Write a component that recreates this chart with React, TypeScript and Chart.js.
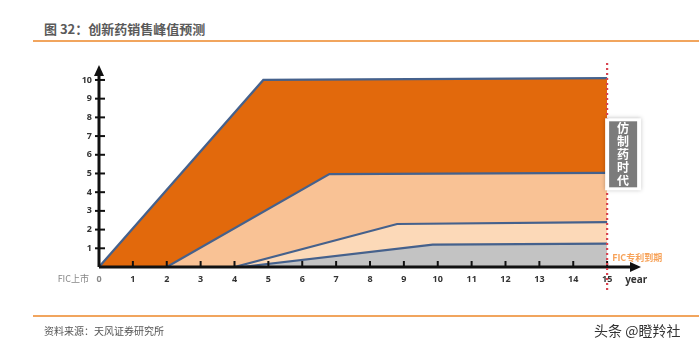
import React, { useEffect, useRef } from "react";
import { Chart, registerables } from "chart.js";

Chart.register(...registerables);

const topX = [0, 4.85, 15];
const topY = [0, 10, 10.1];
const midX = [2, 6.8, 15];
const midY = [0, 4.97, 5.03];
const lowX = [4, 8.8, 15];
const lowY = [0, 2.3, 2.4];
const baseX = [4.2, 9.85, 15];
const baseY = [0, 1.2, 1.25];

const xTicks = [0, 1, 2, 3, 4, 5, 6, 7, 8, 9, 10, 11, 12, 13, 14, 15];
const yTicks = [1, 2, 3, 4, 5, 6, 7, 8, 9, 10];

const title = "图 32：创新药销售峰值预测";
const source = "资料来源：天风证券研究所";
const watermark = "头条 @瞪羚社";
const boxText = "仿制药时代";
const expiryLabel = "FIC专利到期";
const launchLabel = "FIC上市";
const yearLabel = "year";

const pts = (xs: number[], ys: number[]) => xs.map((x, i) => ({ x, y: ys[i] }));

const LINE = "#45618c";

export default function App() {
  const ref = useRef<HTMLCanvasElement | null>(null);
  useEffect(() => {
    document.body.style.margin = "0";
    const overlay = {
      id: "overlay",
      afterDatasetsDraw(chart: any) {
        const ctx = chart.ctx;
        const xs = chart.scales.x;
        const ys = chart.scales.y;
        const ca = chart.chartArea;
        ctx.save();
        // ticks
        ctx.strokeStyle = "#111";
        ctx.lineWidth = 2;
        xTicks.slice(1).forEach((v) => {
          const px = xs.getPixelForValue(v);
          ctx.beginPath();
          ctx.moveTo(px, ca.bottom);
          ctx.lineTo(px, ca.bottom - 6);
          ctx.stroke();
        });
        yTicks.forEach((v) => {
          const py = ys.getPixelForValue(v);
          ctx.beginPath();
          ctx.moveTo(ca.left - 4, py);
          ctx.lineTo(ca.left + 6, py);
          ctx.stroke();
        });
        // axes
        ctx.lineWidth = 3;
        ctx.beginPath();
        ctx.moveTo(ca.left, ca.bottom);
        ctx.lineTo(ca.right - 6, ca.bottom);
        ctx.moveTo(ca.left, ca.bottom);
        ctx.lineTo(ca.left, ca.top + 6);
        ctx.stroke();
        ctx.fillStyle = "#111";
        ctx.beginPath();
        ctx.moveTo(ca.right, ca.bottom);
        ctx.lineTo(ca.right - 11, ca.bottom - 5);
        ctx.lineTo(ca.right - 11, ca.bottom + 5);
        ctx.closePath();
        ctx.fill();
        ctx.beginPath();
        ctx.moveTo(ca.left, ca.top);
        ctx.lineTo(ca.left - 5, ca.top + 11);
        ctx.lineTo(ca.left + 5, ca.top + 11);
        ctx.closePath();
        ctx.fill();
        // red dotted line at 15
        const p15 = xs.getPixelForValue(15);
        ctx.strokeStyle = "#d8434f";
        ctx.lineWidth = 2.2;
        ctx.setLineDash([2, 3]);
        ctx.beginPath();
        ctx.moveTo(p15, ca.top - 2);
        ctx.lineTo(p15, ca.bottom + 25);
        ctx.stroke();
        ctx.setLineDash([]);
        // box
        const bx = p15 - 2;
        const by = ys.getPixelForValue(7.95);
        const bw = 36;
        const bh = 72;
        ctx.shadowColor = "rgba(0,0,0,0.25)";
        ctx.shadowBlur = 4;
        ctx.fillStyle = "#ffffff";
        ctx.fillRect(bx, by, bw, bh);
        ctx.shadowBlur = 0;
        ctx.fillStyle = "#7b7b7b";
        ctx.fillRect(bx + 4, by + 3, bw - 8, bh - 6);
        ctx.fillStyle = "#ffffff";
        ctx.font = "bold 12px 'Noto Sans CJK SC'";
        ctx.textAlign = "center";
        ctx.textBaseline = "middle";
        Array.from(boxText).forEach((c, i) => {
          ctx.fillText(c, bx + bw / 2, by + 10 + i * 13);
        });
        // labels
        ctx.font = "bold 9px 'Noto Sans CJK SC'";
        ctx.fillStyle = "#f7a35a";
        ctx.textAlign = "left";
        ctx.fillText(expiryLabel, p15 + 5, ys.getPixelForValue(0.5));
        ctx.fillStyle = "#333";
        ctx.font = "bold 10px 'Noto Sans', sans-serif";
        ctx.fillText(yearLabel, p15 + 18, ca.bottom + 13);
        ctx.fillStyle = "#888";
        ctx.font = "9px 'Noto Sans CJK SC'";
        ctx.textAlign = "right";
        ctx.fillText(launchLabel, ca.left - 10, ca.bottom + 12);
        ctx.restore();
      },
    };
    const mk = (xs: number[], ys: number[], color: string) => ({
      data: pts(xs, ys),
      borderColor: LINE,
      borderWidth: 2.2,
      backgroundColor: color,
      fill: "origin",
      pointRadius: 0,
      tension: 0,
    });
    const chart = new Chart(ref.current as HTMLCanvasElement, {
      type: "line",
      data: {
        datasets: [
          mk(baseX, baseY, "#c3c3c3"),
          mk(lowX, lowY, "#fcd9b8"),
          mk(midX, midY, "#f9c295"),
          mk(topX, topY, "#e2690c"),
        ],
      },
      plugins: [overlay],
      options: {
        animation: false,
        responsive: false,
        layout: { padding: { left: 79, right: 58, top: 65, bottom: 67 } },
        plugins: { legend: { display: false }, tooltip: { enabled: false } },
        scales: {
          x: {
            type: "linear",
            min: 0,
            max: 16,
            grid: { display: false, drawTicks: false },
            border: { display: false },
            afterFit: (s: any) => {
              s.height = 24;
            },
            afterBuildTicks: (s: any) => {
              s.ticks = xTicks.map((v) => ({ value: v }));
            },
            ticks: {
              padding: 7,
              maxRotation: 0,
              autoSkip: false,
              color: (c: any) => (c.tick && c.tick.value === 0 ? "#888" : "#333"),
              font: { size: 9, weight: "bold", family: "'Noto Sans', sans-serif" },
            },
          },
          y: {
            type: "linear",
            min: 0,
            max: 10.8,
            grid: { display: false, drawTicks: false },
            border: { display: false },
            afterFit: (s: any) => {
              s.width = 20;
            },
            afterBuildTicks: (s: any) => {
              s.ticks = yTicks.map((v) => ({ value: v }));
            },
            ticks: {
              padding: 7,
              autoSkip: false,
              color: "#333",
              font: { size: 9, weight: "bold", family: "'Noto Sans', sans-serif" },
            },
          },
        },
      },
    } as any);
    return () => chart.destroy();
  }, []);
  return (
    <div style={{ position: "relative", width: 699, height: 358, background: "#fff", fontFamily: "'Noto Sans CJK SC', sans-serif" }}>
      <div style={{ position: "absolute", left: 44, top: 19, fontSize: 13, fontWeight: "bold", color: "#5a5a5a", whiteSpace: "nowrap" }}>{title}</div>
      <div style={{ position: "absolute", left: 33, top: 40, width: 666, height: 2, background: "#f1a55e" }} />
      <canvas ref={ref} width={699} height={358} style={{ position: "absolute", left: 0, top: 0 }} />
      <div style={{ position: "absolute", left: 33, top: 315, width: 666, height: 2, background: "#f1a55e" }} />
      <div style={{ position: "absolute", left: 44, top: 323, fontSize: 10, color: "#555", whiteSpace: "nowrap" }}>{source}</div>
      <div style={{ position: "absolute", left: 594, top: 320, fontSize: 14, color: "#333", whiteSpace: "nowrap" }}>{watermark}</div>
    </div>
  );
}
